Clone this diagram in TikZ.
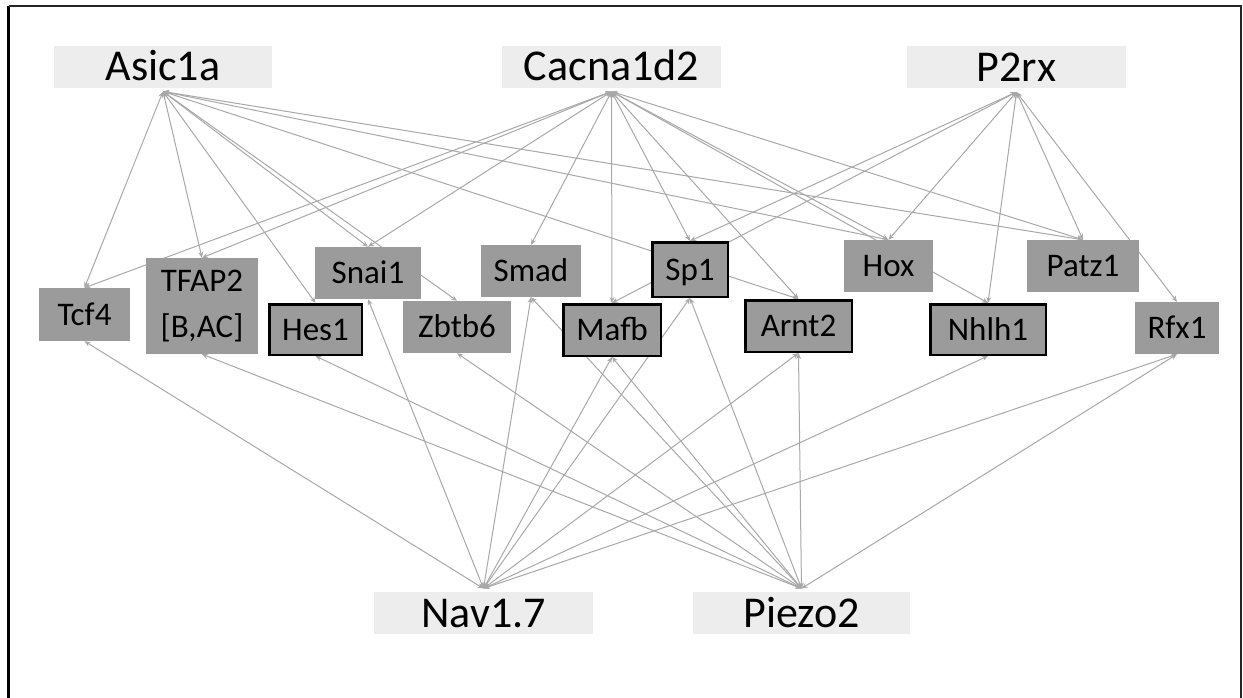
\documentclass[tikz,border=0pt]{standalone}
\usepackage{fontspec}
\setmainfont{Carlito}
\usetikzlibrary{arrows.meta,backgrounds}
\definecolor{hubfill}{HTML}{EDEDED}
\definecolor{genefill}{HTML}{9B9B9B}
\definecolor{linkgray}{HTML}{A8A8A8}
\begin{document}
\begin{tikzpicture}[x=1pt,y=-1pt,
  hub/.style={rectangle, fill=hubfill, inner sep=0pt, outer ysep=3.5pt, minimum height=42pt,
    font=\fontsize{44}{48}\selectfont, text height=28pt, text depth=0pt},
  gene/.style={rectangle, fill=genefill, inner sep=0pt, minimum height=52pt,
    font=\fontsize{33}{40}\selectfont, text height=21pt, text depth=0pt},
  marked/.style={draw=black, line width=2.5pt},
  link/.style={draw=linkgray, line width=1pt,
    {Stealth[length=6pt,width=5pt]}-{Stealth[length=6pt,width=5pt]}}]
\useasboundingbox (0,0) rectangle (1243,698);

% outer frame, open at the bottom
\draw[line width=2.8pt] (8.5,700) -- (8.5,5.7);
\draw[line width=2.2pt, black!85] (8.5,5.7) -- (1241,5.7) -- (1241,700);

% ion channels
\node[hub, minimum width=218pt] (asic)  at (163,67)    {Asic1a};
\node[hub, minimum width=219pt] (cac)   at (611.5,67)  {Cacna1d2};
\node[hub, minimum width=219pt] (p2rx)  at (1016.5,67.5) {P2rx};
\node[hub, minimum width=219pt] (nav)   at (483.5,613) {Nav1.7};
\node[hub, minimum width=217pt] (piezo) at (801.5,613) {Piezo2};

% transcription factors
\node[gene, minimum width=91pt, minimum height=53pt] (tcf) at (84.5,314.5) {Tcf4};
\node[gene, minimum width=112pt, minimum height=96pt, align=center,
      text height={}, text depth={}, font=\fontsize{33}{46}\selectfont] (tfap) at (202,306) {TFAP2\\{}[B,AC]};
\node[gene, minimum width=106pt] (snai) at (368,273) {Snai1};
\node[gene, marked, minimum width=92.5pt, minimum height=50.5pt] (hes) at (315.5,329.5) {Hes1};
\node[gene, minimum width=100pt] (smad) at (531,271) {Smad};
\node[gene, minimum width=108pt] (zbtb) at (457,327) {Zbtb6};
\node[gene, marked, minimum width=75.5pt, minimum height=54.5pt] (sp) at (690,269.5) {Sp1};
\node[gene, marked, minimum width=97.5pt, minimum height=51.5pt] (mafb) at (612,330) {Mafb};
\node[gene, marked, minimum width=106.5pt, minimum height=51.5pt] (arnt) at (798.5,326) {Arnt2};
\node[gene, minimum width=89pt] (hox) at (888.5,266) {Hox};
\node[gene, minimum width=112pt] (patz) at (1083,266) {Patz1};
\node[gene, marked, minimum width=115.5pt, minimum height=50.5pt] (nhlh) at (988,329.5) {Nhlh1};
\node[gene, minimum width=84pt] (rfx) at (1177,328) {Rfx1};

% regulatory links, drawn beneath the boxes
\begin{scope}[on background layer]
  \foreach \t in {tcf,tfap,hes,snai,zbtb,arnt,hox,patz}
    \draw[link] (asic.south) -- (\t.north);
  \foreach \t in {tcf,tfap,snai,smad,mafb,sp,arnt,hox,nhlh,patz}
    \draw[link] (cac.south) -- (\t.north);
  \foreach \t in {sp,mafb,hox,nhlh,patz,rfx}
    \draw[link] (p2rx.south) -- (\t.north);
  \foreach \t in {tcf,snai,smad,mafb,sp,arnt,nhlh,rfx}
    \draw[link] (nav.north) -- (\t.south);
  \foreach \t in {tfap,hes,zbtb,smad,mafb,sp,arnt,rfx}
    \draw[link] (piezo.north) -- (\t.south);
\end{scope}
\end{tikzpicture}
\end{document}
